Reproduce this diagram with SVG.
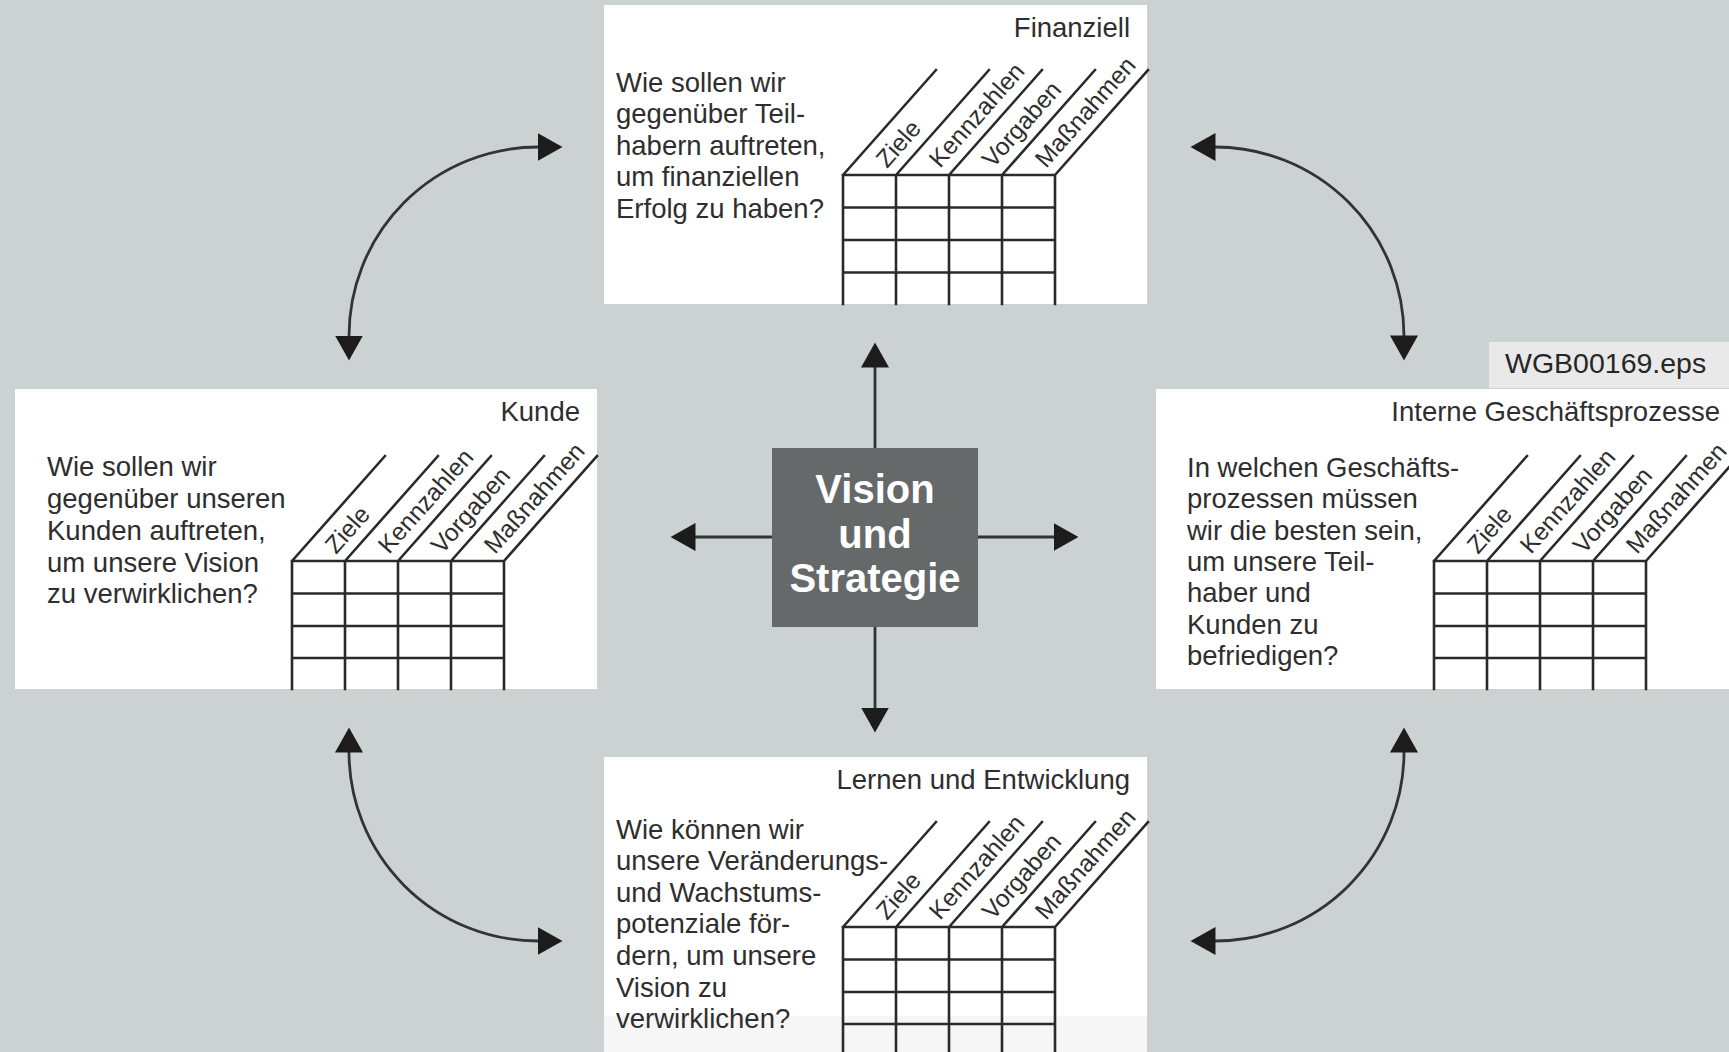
<svg xmlns="http://www.w3.org/2000/svg" width="1729" height="1052" viewBox="0 0 1729 1052">
<defs>
<style>
.bg{fill:#ccd1d2}
.box{fill:#ffffff}
.t{font-family:"Liberation Sans",Arial,Helvetica,sans-serif;font-size:27.5px;fill:#2e2e2e}
.ttl{font-family:"Liberation Sans",Arial,Helvetica,sans-serif;font-size:27.5px;fill:#2e2e2e;text-anchor:end}
.lbl{font-family:"Liberation Sans",Arial,Helvetica,sans-serif;font-size:24.5px;fill:#2e2e2e}
.grid{stroke:#2a2a2a;stroke-width:2.6;fill:none;stroke-linecap:square}
.conn{stroke:#333333;stroke-width:2.8;fill:none}
.arc{marker-start:url(#ah);marker-end:url(#ah)}
.one{marker-end:url(#ah)}
.center{fill:#66696a}
.ct{font-family:"Liberation Sans",Arial,Helvetica,sans-serif;font-size:40px;font-weight:bold;fill:#ffffff;text-anchor:middle}
.tag{fill:#e9e9e9;stroke:#cfd2d3;stroke-width:1}
.tagt{font-family:"Liberation Sans",Arial,Helvetica,sans-serif;font-size:28.5px;fill:#262626}
</style>
<marker id="ah" markerUnits="userSpaceOnUse" markerWidth="26" markerHeight="28" viewBox="0 0 26 28" refX="0.5" refY="14" orient="auto-start-reverse">
<path d="M0,0 L25,14 L0,28 Z" fill="#1c1c1c"/>
</marker>
</defs>

<rect class="bg" x="0" y="0" width="1729" height="1052"/>

<g id="connectors">
<path class="conn arc" d="M349,336 A189,189 0 0 1 538,147"/>
<path class="conn arc" d="M1215,147 A189,189 0 0 1 1404,336"/>
<path class="conn arc" d="M1404,752 A189,189 0 0 1 1215,941"/>
<path class="conn arc" d="M538,941 A189,189 0 0 1 349,752"/>
<path class="conn one" d="M875,448 V367"/>
<path class="conn one" d="M875,627 V708"/>
<path class="conn one" d="M772,537 H695"/>
<path class="conn one" d="M978,537 H1054"/>
</g>

<g id="finanziell">
<rect class="box" x="604" y="5" width="543" height="299"/>
<text class="ttl" x="1130" y="37">Finanziell</text>
<text class="t" x="616" y="92">Wie sollen wir</text>
<text class="t" x="616" y="123">gegenüber Teil-</text>
<text class="t" x="616" y="155">habern auftreten,</text>
<text class="t" x="616" y="186">um finanziellen</text>
<text class="t" x="616" y="218">Erfolg zu haben?</text>
<g transform="translate(843,175)">
<path class="grid" d="M0,0 V129 M53,0 V129 M106,0 V129 M159,0 V129 M212,0 V129 M0,0 H212 M0,32.5 H212 M0,65 H212 M0,97.5 H212 M0,0 L93,-105 M53,0 L146,-105 M106,0 L199,-105 M159,0 L252,-105 M212,0 L305,-105"/>
<text class="lbl" transform="translate(44,-6) rotate(-48.5)">Ziele</text>
<text class="lbl" transform="translate(97,-6) rotate(-48.5)">Kennzahlen</text>
<text class="lbl" transform="translate(150,-6) rotate(-48.5)">Vorgaben</text>
<text class="lbl" transform="translate(203,-6) rotate(-48.5)">Maßnahmen</text>
</g>
</g>

<g id="kunde">
<rect class="box" x="15" y="389" width="582" height="300"/>
<text class="ttl" x="580" y="421">Kunde</text>
<text class="t" x="47" y="476">Wie sollen wir</text>
<text class="t" x="47" y="508">gegenüber unseren</text>
<text class="t" x="47" y="540">Kunden auftreten,</text>
<text class="t" x="47" y="572">um unsere Vision</text>
<text class="t" x="47" y="603">zu verwirklichen?</text>
<g transform="translate(292,561)">
<path class="grid" d="M0,0 V128 M53,0 V128 M106,0 V128 M159,0 V128 M212,0 V128 M0,0 H212 M0,32.5 H212 M0,65 H212 M0,97 H212 M0,0 L93,-105 M53,0 L146,-105 M106,0 L199,-105 M159,0 L252,-105 M212,0 L305,-105"/>
<text class="lbl" transform="translate(44,-6) rotate(-48.5)">Ziele</text>
<text class="lbl" transform="translate(97,-6) rotate(-48.5)">Kennzahlen</text>
<text class="lbl" transform="translate(150,-6) rotate(-48.5)">Vorgaben</text>
<text class="lbl" transform="translate(203,-6) rotate(-48.5)">Maßnahmen</text>
</g>
</g>

<g id="interne-geschaeftsprozesse">
<rect class="box" x="1156" y="389" width="590" height="300"/>
<text class="ttl" x="1720" y="421">Interne Geschäftsprozesse</text>
<text class="t" x="1187" y="477">In welchen Geschäfts-</text>
<text class="t" x="1187" y="508">prozessen müssen</text>
<text class="t" x="1187" y="540">wir die besten sein,</text>
<text class="t" x="1187" y="571">um unsere Teil-</text>
<text class="t" x="1187" y="602">haber und</text>
<text class="t" x="1187" y="634">Kunden zu</text>
<text class="t" x="1187" y="665">befriedigen?</text>
<g transform="translate(1434,561)">
<path class="grid" d="M0,0 V128 M53,0 V128 M106,0 V128 M159,0 V128 M212,0 V128 M0,0 H212 M0,32.5 H212 M0,65 H212 M0,97 H212 M0,0 L93,-105 M53,0 L146,-105 M106,0 L199,-105 M159,0 L252,-105 M212,0 L305,-105"/>
<text class="lbl" transform="translate(44,-6) rotate(-48.5)">Ziele</text>
<text class="lbl" transform="translate(97,-6) rotate(-48.5)">Kennzahlen</text>
<text class="lbl" transform="translate(150,-6) rotate(-48.5)">Vorgaben</text>
<text class="lbl" transform="translate(203,-6) rotate(-48.5)">Maßnahmen</text>
</g>
</g>

<g id="lernen-und-entwicklung">
<rect class="box" x="604" y="757" width="543" height="300"/>
<rect x="604" y="1016" width="543" height="40" fill="#f6f6f6"/>
<text class="ttl" x="1130" y="789">Lernen und Entwicklung</text>
<text class="t" x="616" y="839">Wie können wir</text>
<text class="t" x="616" y="870">unsere Veränderungs-</text>
<text class="t" x="616" y="902">und Wachstums-</text>
<text class="t" x="616" y="933">potenziale för-</text>
<text class="t" x="616" y="965">dern, um unsere</text>
<text class="t" x="616" y="997">Vision zu</text>
<text class="t" x="616" y="1028">verwirklichen?</text>
<g transform="translate(843,927)">
<path class="grid" d="M0,0 V130 M53,0 V130 M106,0 V130 M159,0 V130 M212,0 V130 M0,0 H212 M0,32.5 H212 M0,65 H212 M0,97 H212 M0,0 L93,-105 M53,0 L146,-105 M106,0 L199,-105 M159,0 L252,-105 M212,0 L305,-105"/>
<text class="lbl" transform="translate(44,-6) rotate(-48.5)">Ziele</text>
<text class="lbl" transform="translate(97,-6) rotate(-48.5)">Kennzahlen</text>
<text class="lbl" transform="translate(150,-6) rotate(-48.5)">Vorgaben</text>
<text class="lbl" transform="translate(203,-6) rotate(-48.5)">Maßnahmen</text>
</g>
</g>

<g id="vision-und-strategie">
<rect class="center" x="772" y="448" width="206" height="179"/>
<text class="ct" x="875" y="503">Vision</text>
<text class="ct" x="875" y="548">und</text>
<text class="ct" x="875" y="592">Strategie</text>
</g>

<g id="file-tag">
<rect class="tag" x="1488.5" y="341.5" width="250" height="47"/>
<text class="tagt" x="1505" y="373">WGB00169.eps</text>
</g>
</svg>
